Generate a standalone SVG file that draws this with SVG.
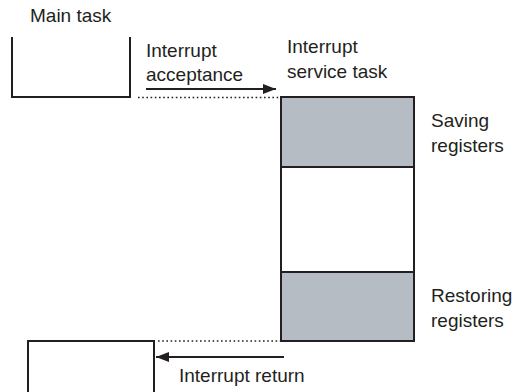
<svg xmlns="http://www.w3.org/2000/svg" width="514" height="392" viewBox="0 0 514 392">
<defs>
<style>
text{font-family:"Liberation Sans",Arial,sans-serif;font-size:19px;fill:#231f20}
.box{fill:none;stroke:#231f20;stroke-width:2}
.grey{fill:#b5bcc4;stroke:#231f20;stroke-width:2}
.white{fill:#fff;stroke:#231f20;stroke-width:2}
.dot{stroke:#231f20;stroke-width:1.6;stroke-dasharray:1.6 2.6;fill:none}
.arr{stroke:#231f20;stroke-width:2;fill:none}
</style>
<marker id="ah" markerWidth="13" markerHeight="10" refX="13" refY="5" orient="auto" markerUnits="userSpaceOnUse">
<path d="M0,0 L13,5 L0,10 Z" fill="#231f20"/>
</marker>
</defs>
<rect width="514" height="392" fill="#fff"/>
<g id="main-task-top">
<text x="30" y="22">Main task</text>
<path class="box" d="M12,37 V97 H130 V37"/>
</g>
<g id="isr">
<text x="287" y="53">Interrupt</text>
<text x="287" y="78">service task</text>
<rect class="grey" x="281" y="97" width="133" height="70"/>
<rect class="white" x="281" y="167" width="133" height="105"/>
<rect class="grey" x="281" y="272" width="133" height="69"/>
</g>
<g id="saving-label">
<text x="431" y="127">Saving</text>
<text x="431" y="152">registers</text>
</g>
<g id="restoring-label">
<text x="431" y="302">Restoring</text>
<text x="431" y="327">registers</text>
</g>
<g id="main-task-bottom">
<path class="box" d="M28,392 V341 H154 V392"/>
</g>
<g id="connectors">
<line class="arr" x1="146" y1="89" x2="276" y2="89" marker-end="url(#ah)"/>
<line class="dot" x1="138" y1="97.5" x2="279" y2="97.5"/>
<line class="dot" x1="158" y1="341" x2="280" y2="341"/>
<line class="arr" x1="284" y1="357" x2="156" y2="357" marker-end="url(#ah)"/>
<text x="146" y="57">Interrupt</text>
<text x="146" y="81">acceptance</text>
<text x="179" y="382">Interrupt return</text>
</g>
</svg>
